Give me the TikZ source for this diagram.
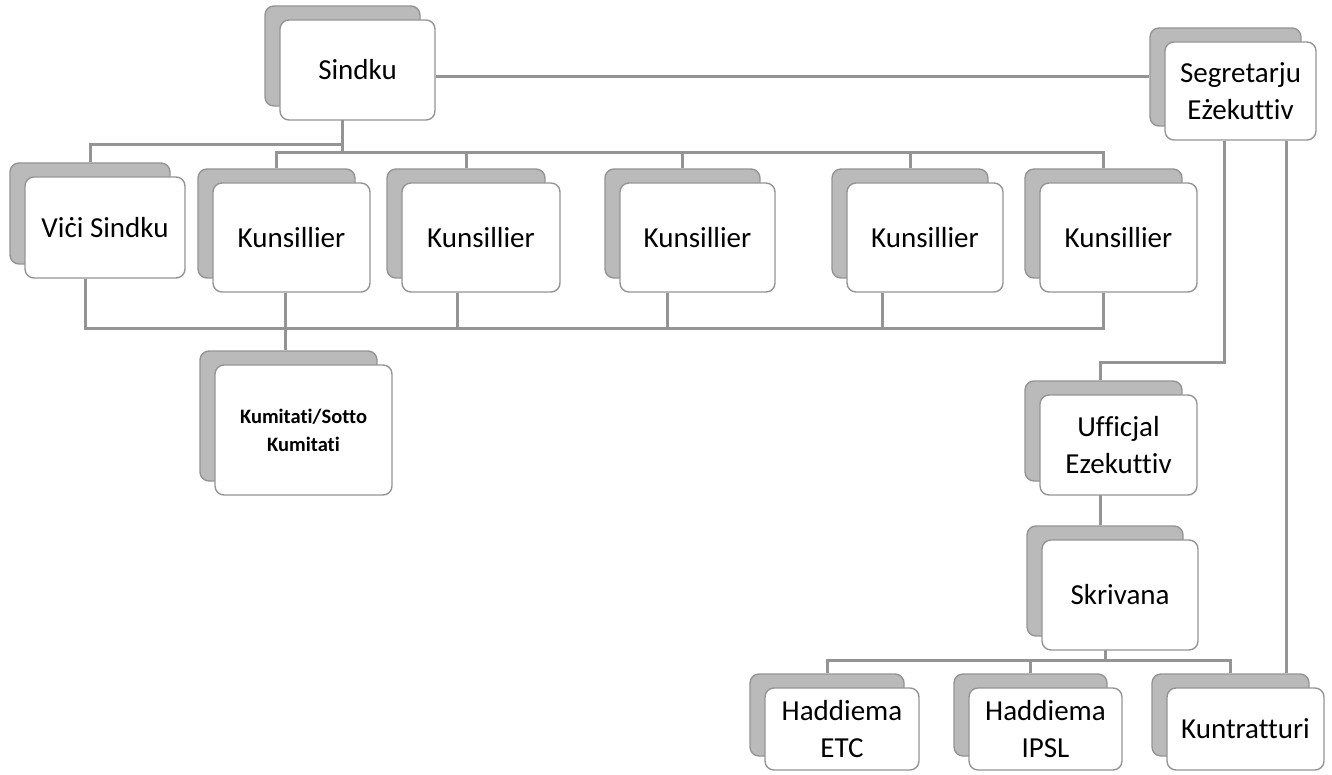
\documentclass[tikz,border=0pt]{standalone}
\usepackage{fontspec}
\setmainfont{Carlito}[Ligatures=NoCommon]
\usetikzlibrary{calc}
\pgfdeclarelayer{background}
\pgfsetlayers{background,main}
\tikzset{
  front/.style={draw=black!42, line width=1.4pt, fill=white, rounded corners=9pt,
    align=center, inner sep=0pt, font=\fontsize{29}{37}\selectfont},
  shade/.style={draw=black!42, line width=1.4pt, fill=black!27, rounded corners=9pt, inner sep=0pt},
  conn/.style={draw=black!42, line width=3pt},
  smalltext/.style={font=\fontsize{20.5}{28}\selectfont\bfseries},
}
\newcommand{\orgbox}[7][]{% [style] name, cx, cy, w, h, text
  \node[shade, minimum width=#5pt, minimum height=#6pt] (#2-s) at (#3-15,#4-14) {};
  \node[front, minimum width=#5pt, minimum height=#6pt, #1] (#2) at (#3,#4) {#7};
}
\begin{document}
\begin{tikzpicture}[x=1pt,y=-1pt]
\useasboundingbox (0,0) rectangle (1332,775);
\orgbox{sindku}{357.5}{70}{155}{100}{Sindku}
\orgbox{segr}{1240.5}{91}{151}{98}{Segretarju\\Eżekuttiv}
\orgbox{vici}{105}{227.5}{160}{101}{Viċi Sindku}
\orgbox{ka}{291.5}{237.5}{157}{109}{Kunsillier}
\orgbox{kb}{481}{237.5}{158}{109}{Kunsillier}
\orgbox{kc}{697.5}{237.5}{155}{109}{Kunsillier}
\orgbox{kd}{925}{237.5}{156}{109}{Kunsillier}
\orgbox{ke}{1118.5}{237.5}{157}{109}{Kunsillier}
\orgbox[smalltext]{kum}{303.5}{430}{177}{130}{Kumitati/Sotto\\Kumitati}
\orgbox{uff}{1118.5}{445}{157}{100}{Ufficjal\\Ezekuttiv}
\orgbox{skr}{1120}{595}{156}{110}{Skrivana}
\orgbox{etc}{842}{729}{154}{82}{Haddiema\\ETC}
\orgbox{ipsl}{1045.5}{729}{153}{82}{Haddiema\\IPSL}
\orgbox{kunt}{1245.5}{729}{157}{82}{Kuntratturi}
\coordinate (bus1) at (342.5,153);
\coordinate (bus2) at (285,328);
\coordinate (bus3) at (1105,660);
\begin{pgfonlayer}{background}
\draw[conn] (sindku.east |- segr-s.west) -- (segr-s.west);
\draw[conn] (sindku-s.south) -- (bus1);
\draw[conn] (sindku-s.south |- 0,145) -| (vici-s.north);
\draw[conn] (bus1) -| (ka-s.north);
\draw[conn] (bus1) -| (kb-s.north);
\draw[conn] (bus1) -| (kc-s.north);
\draw[conn] (bus1) -| (kd-s.north);
\draw[conn] (bus1) -| (ke-s.north);
\draw[conn] (vici.south -| 85,0) |- (bus2);
\draw[conn] (ka.south -| 285,0) -- (bus2);
\draw[conn] (kb.south -| 457,0) |- (bus2);
\draw[conn] (kc.south -| 667,0) |- (bus2);
\draw[conn] (kd.south -| 882,0) |- (bus2);
\draw[conn] (ke.south -| 1103,0) |- (bus2);
\draw[conn] (bus2) -- (kum-s.north -| bus2);
\draw[conn] (segr.south -| 1224,0) |- (1100,362) -- (uff-s.north -| 1100,0);
\draw[conn] (segr.south -| 1286,0) -- (kunt-s.north -| 1286,0);
\draw[conn] (uff-s.south -| 1100,0) -- (skr-s.north -| 1100,0);
\draw[conn] (skr-s.south) -- (bus3);
\draw[conn] (bus3) -| (etc-s.north);
\draw[conn] (bus3) -| (ipsl-s.north);
\draw[conn] (bus3) -| (kunt-s.north);
\end{pgfonlayer}
\end{tikzpicture}
\end{document}
